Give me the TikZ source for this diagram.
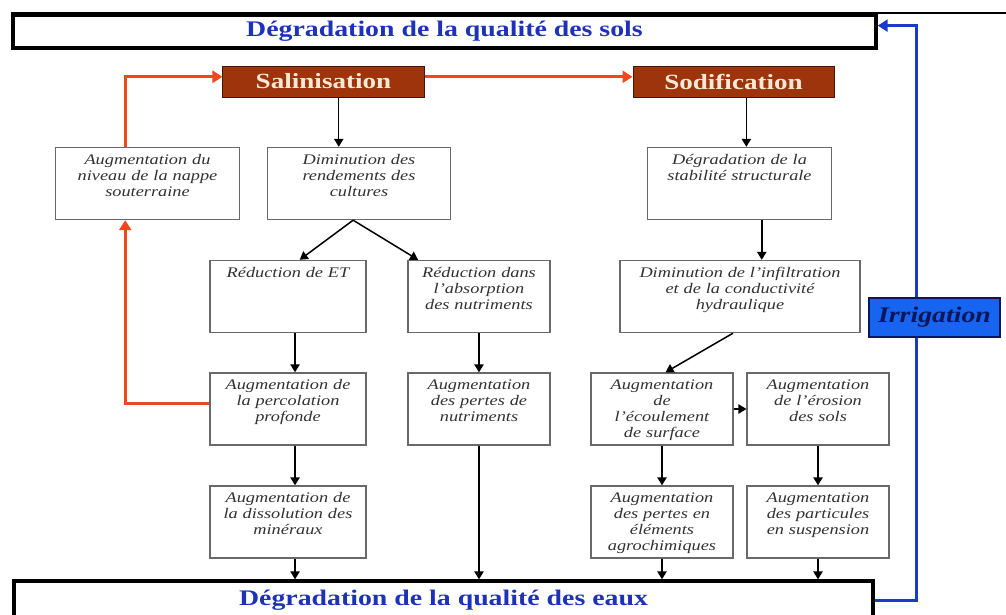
\documentclass[tikz,border=0pt]{standalone}
\usepackage{fontspec}
\setmainfont{Liberation Serif}[FakeStretch=1.25]
\usetikzlibrary{arrows.meta, calc}
\definecolor{brownA}{RGB}{158, 52, 12}
\definecolor{creamA}{RGB}{250, 232, 215}
\definecolor{redA}  {RGB}{240, 72, 30}
\definecolor{blueA} {RGB}{25, 60, 200}
\definecolor{titleA}{RGB}{30, 50, 185}
\definecolor{irrA}  {RGB}{22, 100, 240}
\definecolor{navyA} {RGB}{12, 22, 90}
\definecolor{greyA} {RGB}{105, 105, 105}
\definecolor{textA} {RGB}{50, 50, 50}

\begin{document}
\begin{tikzpicture}[x=0.03cm, y=-0.03cm,
  cell/.style={draw=greyA, line width=0.4mm, fill=white, text width=#1, align=center,
    inner xsep=1pt, inner ysep=3pt, text height=11.5pt, text depth=44pt,
    text=textA, font=\fontsize{12.5}{13.6}\selectfont\itshape},
  banner/.style={draw=black, line width=1mm, inner sep=0pt, text=titleA,
    font=\fontsize{19}{22}\selectfont\bfseries},
  cause/.style={draw=black!60!brownA, fill=brownA, line width=0.3mm, minimum width=6.03cm,
    minimum height=0.93cm, inner sep=0pt, text=creamA, font=\fontsize{18.5}{22}\selectfont\bfseries},
  arr/.style={line width=0.45mm, -{Triangle[length=2.4mm, width=2.8mm]}},
  redarr/.style={draw=redA, line width=0.9mm, -{Triangle[length=3mm, width=3.6mm]}},
  bluearr/.style={draw=blueA, line width=0.9mm, -{Triangle[length=3mm, width=3.6mm]}}]
  \useasboundingbox (0,0) rectangle (1006,615);
  \coordinate (rim) at (1006,14);

  \node[banner, minimum width=25.89cm, minimum height=0.99cm] (sols) at (444.5,31.5) {Dégradation de la qualité des sols};
  \node[banner, minimum width=25.77cm, minimum height=1.14cm] (eaux) at (443.5,600) {Dégradation de la qualité des eaux};
  \draw[line width=0.6mm] (sols.north west) -- (sols.north west -| rim);

  \node[cause] (sal) at (323.5,81.5) {Salinisation};
  \node[cause] (sod) at (733.5,81.5) {Sodification};

  \node[cell=155pt] (nappe)  at (147.5,183.5) {Augmentation du\\niveau de la nappe\\souterraine};
  \node[cell=154pt] (rend)   at (359,183.5)   {Diminution des\\rendements des\\cultures};
  \node[cell=155pt] (stab)   at (739.5,183.5) {Dégradation de la\\stabilité structurale};
  \node[cell=131pt] (redET)  at (288,296.5)   {Réduction de ET};
  \node[cell=119pt] (redabs) at (479,296.5)   {Réduction dans\\l’absorption\\des nutriments};
  \node[cell=203pt] (infil)  at (740,296.5)   {Diminution de l’infiltration\\et de la conductivité\\hydraulique};
  \node[cell=131pt] (perco)  at (288,409)     {Augmentation de\\la percolation\\profonde};
  \node[cell=119pt] (pertes) at (479,409)     {Augmentation\\des pertes de\\nutriments};
  \node[cell=119pt] (ecoul)  at (662,409)     {Augmentation\\de\\l’écoulement\\de surface};
  \node[cell=119pt] (eros)   at (818,409)     {Augmentation\\de l’érosion\\des sols};
  \node[cell=131pt] (dissol) at (288,522)     {Augmentation de\\la dissolution des\\minéraux};
  \node[cell=119pt] (agro)   at (662,522)     {Augmentation\\des pertes en\\éléments\\agrochimiques};
  \node[cell=119pt] (partic) at (818,522)     {Augmentation\\des particules\\en suspension};

  \node[draw=navyA, fill=irrA, line width=0.6mm, minimum width=3.93cm, minimum height=1.17cm,
    inner sep=0pt, text=navyA, font=\fontsize{19}{22}\selectfont\bfseries\itshape] (irr) at (934.5,317.5) {Irrigation};

  \draw[arr] ([xshift=13pt]sal.south) -- ([xshift=13pt]sal.south |- rend.north);
  \draw[arr] ([xshift=11pt]sod.south) -- ([xshift=11pt]sod.south |- stab.north);
  \draw[arr] ([xshift=-5pt]rend.south) -- ([xshift=10pt]redET.north);
  \draw[arr] ([xshift=-5pt]rend.south) -- ([xshift=-52pt]redabs.north);
  \draw[arr] ([xshift=19pt]stab.south) -- ([xshift=19pt]stab.south |- infil.north);
  \draw[arr] ([xshift=6pt]redET.south) -- ([xshift=6pt]redET.south |- perco.north);
  \draw[arr] (redabs) -- (pertes);
  \draw[arr] ([xshift=-6pt]infil.south) -- ([xshift=3pt]ecoul.north);
  \draw[arr] (ecoul) -- (eros);
  \draw[arr] (ecoul) -- (agro);
  \draw[arr] (eros) -- (partic);
  \draw[arr] ([xshift=6pt]perco.south) -- ([xshift=6pt]perco.south |- dissol.north);
  \draw[arr] ([xshift=6pt]dissol.south) -- ([xshift=6pt]dissol.south |- eaux.north);
  \draw[arr] (pertes.south) -- (pertes.south |- eaux.north);
  \draw[arr] (agro.south) -- (agro.south |- eaux.north);
  \draw[arr] (partic.south) -- (partic.south |- eaux.north);

  \draw[redarr] ([yshift=5pt]perco.west) -| ([xshift=-19pt]nappe.south);
  \draw[redarr] ([xshift=-19pt]nappe.north) |- ([yshift=4pt]sal.west);
  \draw[redarr] ([yshift=4pt]sal.east) -- ([yshift=4pt]sod.west);

  \draw[bluearr] ([xshift=-15pt]irr.north) |- ([yshift=5pt]sols.east);
  \draw[draw=blueA, line width=0.9mm] ([xshift=-15pt]irr.south) |- (eaux.east);
\end{tikzpicture}
\end{document}
